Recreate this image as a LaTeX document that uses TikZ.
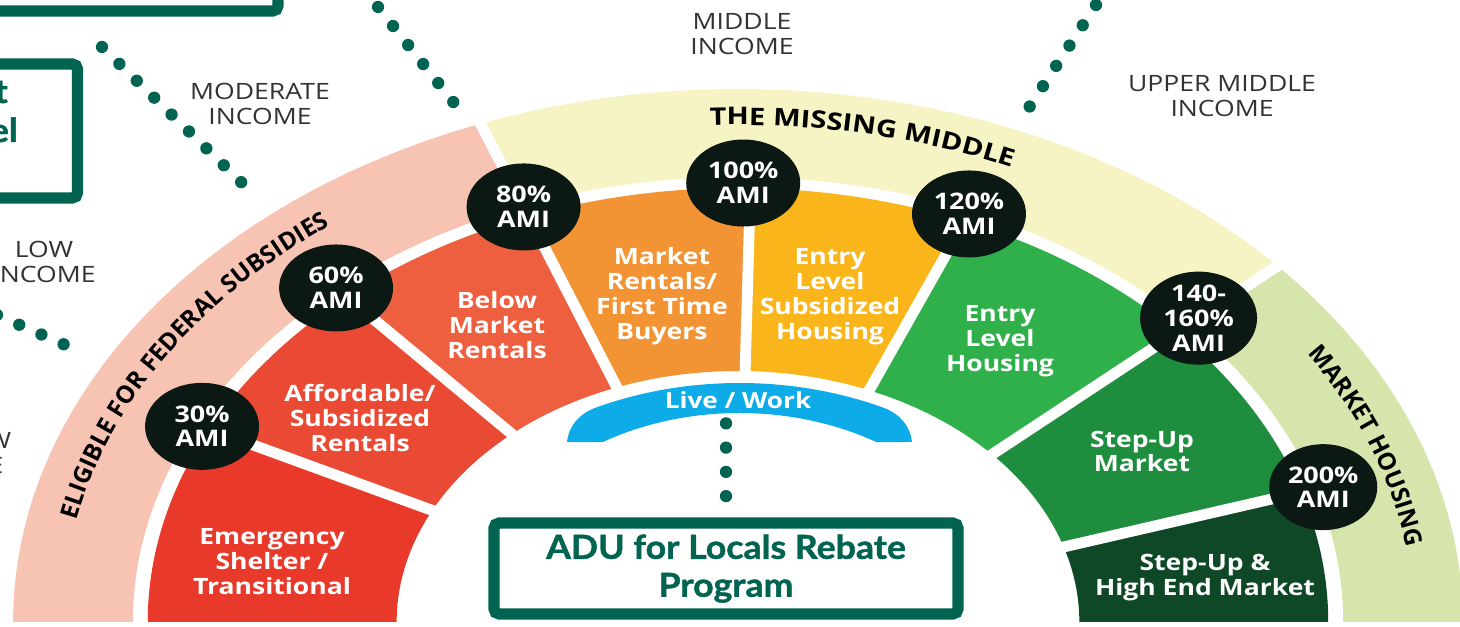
\documentclass[tikz,border=0pt]{standalone}
\usepackage{fontspec}
\setmainfont{Open Sans}
\newfontfamily\labelfont[FakeStretch=1.18]{Open Sans}
\newfontfamily\ringfont[FakeStretch=1.0]{Open Sans}
\newfontfamily\ringwidefont[FakeStretch=1.2]{Open Sans}
\newfontfamily\boxfont[FakeStretch=1.08, BoldFeatures={FakeBold=1.2}]{Lato}
\usetikzlibrary{calc,shapes.geometric,decorations.text}

\definecolor{ringpink}{HTML}{F7C4B4}
\definecolor{ringyellow}{HTML}{F6F4C4}
\definecolor{ringgreen}{HTML}{D6E5AC}
\definecolor{secA}{HTML}{E8392A}
\definecolor{secB}{HTML}{EA4A34}
\definecolor{secC}{HTML}{EE5F40}
\definecolor{secD}{HTML}{F39434}
\definecolor{secE}{HTML}{F9B51A}
\definecolor{secF}{HTML}{2FB04A}
\definecolor{secG}{HTML}{1F8D3E}
\definecolor{secH}{HTML}{0E4826}
\definecolor{amiblack}{HTML}{0C1814}
\definecolor{liveblue}{HTML}{0DACE8}
\definecolor{boxgreen}{HTML}{006450}
\definecolor{incgray}{HTML}{333333}

\newcommand{\ringstyle}{\ringfont\bfseries\fontsize{6.9}{8}\selectfont}
\newcommand{\ringwidestyle}{\ringwidefont\bfseries\fontsize{6.9}{8}\selectfont}

\tikzset{
  sector/.style={text=white, align=center, inner sep=0pt,
    font=\labelfont\bfseries\fontsize{6.4}{7.1}\selectfont},
  ami/.style={ellipse, fill=amiblack, minimum width=1.14cm, minimum height=0.87cm,
    inner sep=0pt, text=white, align=center,
    font=\labelfont\bfseries\fontsize{6.5}{7}\selectfont},
  income/.style={text=incgray, align=center, inner sep=0pt,
    font=\labelfont\fontsize{6.4}{7.1}\selectfont},
  divider/.style={white, line width=3.1pt},
  programbox/.style={draw=boxgreen, line width=3.2pt, rounded corners=1.5pt, fill=white,
    text=boxgreen, align=center, inner sep=0pt,
    font=\boxfont\bfseries\fontsize{9.4}{10.8}\selectfont},
  boxtext/.style={text=boxgreen, inner sep=0pt, font=\boxfont\bfseries\fontsize{9.4}{10.8}\selectfont},
  dotline/.style={boxgreen, line width=3.5pt, line cap=round, dash pattern=on 0pt off 6.9pt,
    shorten >=-0.6pt},
  ringtext/.style={decorate, decoration={text along path, text align=center, text={#1}}}
}

\begin{document}
\begin{tikzpicture}
	\useasboundingbox (0,0) rectangle (14.6,6.27);
	\clip (0,0) rectangle (14.6,6.27);
	\coordinate (O) at (7.38,0.05);

	\begin{scope}[shift={(O)}, xscale=1.36]
		% outer ring
		\foreach \s/\e/\c in {180/110.8/ringpink, 110.8/41.9/ringyellow, 41.9/0/ringgreen}
			\fill[\c] (\s:5.33) arc[start angle=\s, end angle=\e, radius=5.33]
				-- (\e:4.45) arc[start angle=\e, end angle=\s, radius=4.45] -- cycle;
		% housing types
		\foreach \s/\e/\c in {180/153.6/secA, 153.6/131.5/secB, 131.5/110.8/secC, 110.8/88.8/secD,
				88.8/67.4/secE, 67.4/41.9/secF, 41.9/17.4/secG, 17.4/0/secH}
			\fill[\c] (\s:4.34) arc[start angle=\s, end angle=\e, radius=4.34]
				-- (\e:2.51) arc[start angle=\e, end angle=\s, radius=2.51] -- cycle;
		\foreach \a in {153.6,131.5,88.8,67.4,17.4}
			\draw[divider] (\a:2.4) -- (\a:4.4);
		\foreach \a in {110.8,41.9}
			\draw[divider] (\a:2.4) -- (\a:5.45);

		\node[ami] (ami30) at (153.6:4.40) {30\%\\AMI};
		\node[ami] (ami60) at (131.5:4.46) {60\%\\AMI};
		\node[ami] (ami80) at (110.8:4.44) {80\%\\AMI};
		\node[ami] (ami100) at (89.5:4.39) {100\%\\AMI};
		\node[ami] (ami120) at (67.4:4.42) {120\%\\AMI};
		\node[ami, minimum width=1.17cm, minimum height=0.88cm] (ami140) at (41.9:4.55) {140-\\160\%\\AMI};
		\node[ami, minimum width=1.08cm, minimum height=0.86cm] (ami200) at (17.4:4.51) {200\%\\AMI};
	\end{scope}

	\path[ringtext={|\ringstyle|ELIGIBLE FOR FEDERAL SUBSIDIES}]
		([shift={(172:6.76 and 4.97)}]O) arc[start angle=172, end angle=124, x radius=6.76, y radius=4.97];
	\path[ringtext={|\ringwidestyle|THE MISSING MIDDLE}]
		([shift={(101:6.76 and 4.97)}]O) arc[start angle=101, end angle=57, x radius=6.76, y radius=4.97];
	\path[ringtext={|\ringstyle|MARKET HOUSING}]
		([shift={(35:6.76 and 4.97)}]O) arc[start angle=35, end angle=6, x radius=6.76, y radius=4.97];

	\node[sector] (emer) at (2.72,0.65) {Emergency\\Shelter /\\Transitional};
	\node[sector] (afford) at (3.60,2.09) {Affordable/\\Subsidized\\Rentals};
	\node[sector] (below) at (4.97,3.02) {Below\\Market\\Rentals};
	\node[sector] (market) at (6.62,3.305) {Market\\Rentals/\\First Time\\Buyers};
	\node[sector] (entsub) at (8.30,3.305) {Entry\\Level\\Subsidized\\Housing};
	\node[sector] (entry) at (10.00,2.86) {Entry\\Level\\Housing};
	\node[sector] (stepup) at (11.42,1.755) {Step-Up\\Market};
	\node[sector] (highend) at (12.05,0.495) {Step-Up \&\\High End Market};

	\node[income] (middle) at (7.42,5.925) {MIDDLE\\INCOME};
	\node[income] (moderate) at (2.60,5.23) {MODERATE\\INCOME};
	\node[income] (upper) at (12.22,5.31) {UPPER MIDDLE\\INCOME};
	\node[income] (low) at (0.44,3.655) {LOW\\INCOME};
	\node[income, anchor=base east] (lowa) at (0.12,1.78) {W};
	\node[income, anchor=base east] (lowb) at (0.04,1.53) {E};

	% live / work band
	\coordinate (lw) at (7.395,0.05);
	\fill[liveblue] ([shift={(59.4:2.69 and 2.09)}]lw) -- (9.12,1.85)
		.. controls (9.10,2.02) and (8.99,2.135) .. ([shift={(63.6:3.25 and 2.39)}]lw)
		arc[start angle=63.6, end angle=116.4, x radius=3.25, y radius=2.39]
		.. controls (5.80,2.135) and (5.69,2.02) .. (5.67,1.85)
		-- ([shift={(120.6:2.69 and 2.09)}]lw)
		arc[start angle=120.6, end angle=59.4, x radius=2.69, y radius=2.09] -- cycle;
	\node[sector, font=\labelfont\bfseries\fontsize{6.3}{7}\selectfont] (live) at (7.38,2.27) {Live / Work};

	% program boxes
	\node[programbox, minimum width=4.64cm, minimum height=0.91cm] (adu) at (7.26,0.585)
		{ADU for Locals Rebate\\Program};
	\node[programbox, minimum width=3.08cm, minimum height=0.84cm] (topbox) at (1.24,6.58) {};
	\node[programbox, minimum width=1.275cm, minimum height=1.34cm] (leftbox) at (0.1375,4.96) {};
	\node[boxtext, anchor=base east] (lefta) at (0.085,5.24) {t};
	\node[boxtext, anchor=base east] (leftb) at (0.185,4.85) {el};

	\coordinate (d1a) at (1.02,5.80);
	\coordinate (d1b) at (2.41,4.45);
	\coordinate (d2a) at (3.78,6.20);
	\coordinate (d2b) at (4.54,5.24);
	\coordinate (d3a) at (10.96,6.22);
	\coordinate (d3b) at (10.30,5.21);
	\coordinate (d4a) at (-0.03,3.12);
	\coordinate (d4b) at (0.63,2.83);
	\draw[dotline] (d1a) -- (d1b);
	\draw[dotline] (d2a) -- (d2b);
	\draw[dotline] (d3a) -- (d3b);
	\draw[dotline] (d4a) -- (d4b);
	\draw[dotline] ([yshift=9.4mm]adu.north) -- ([yshift=2.1mm]adu.north);
\end{tikzpicture}
\end{document}
